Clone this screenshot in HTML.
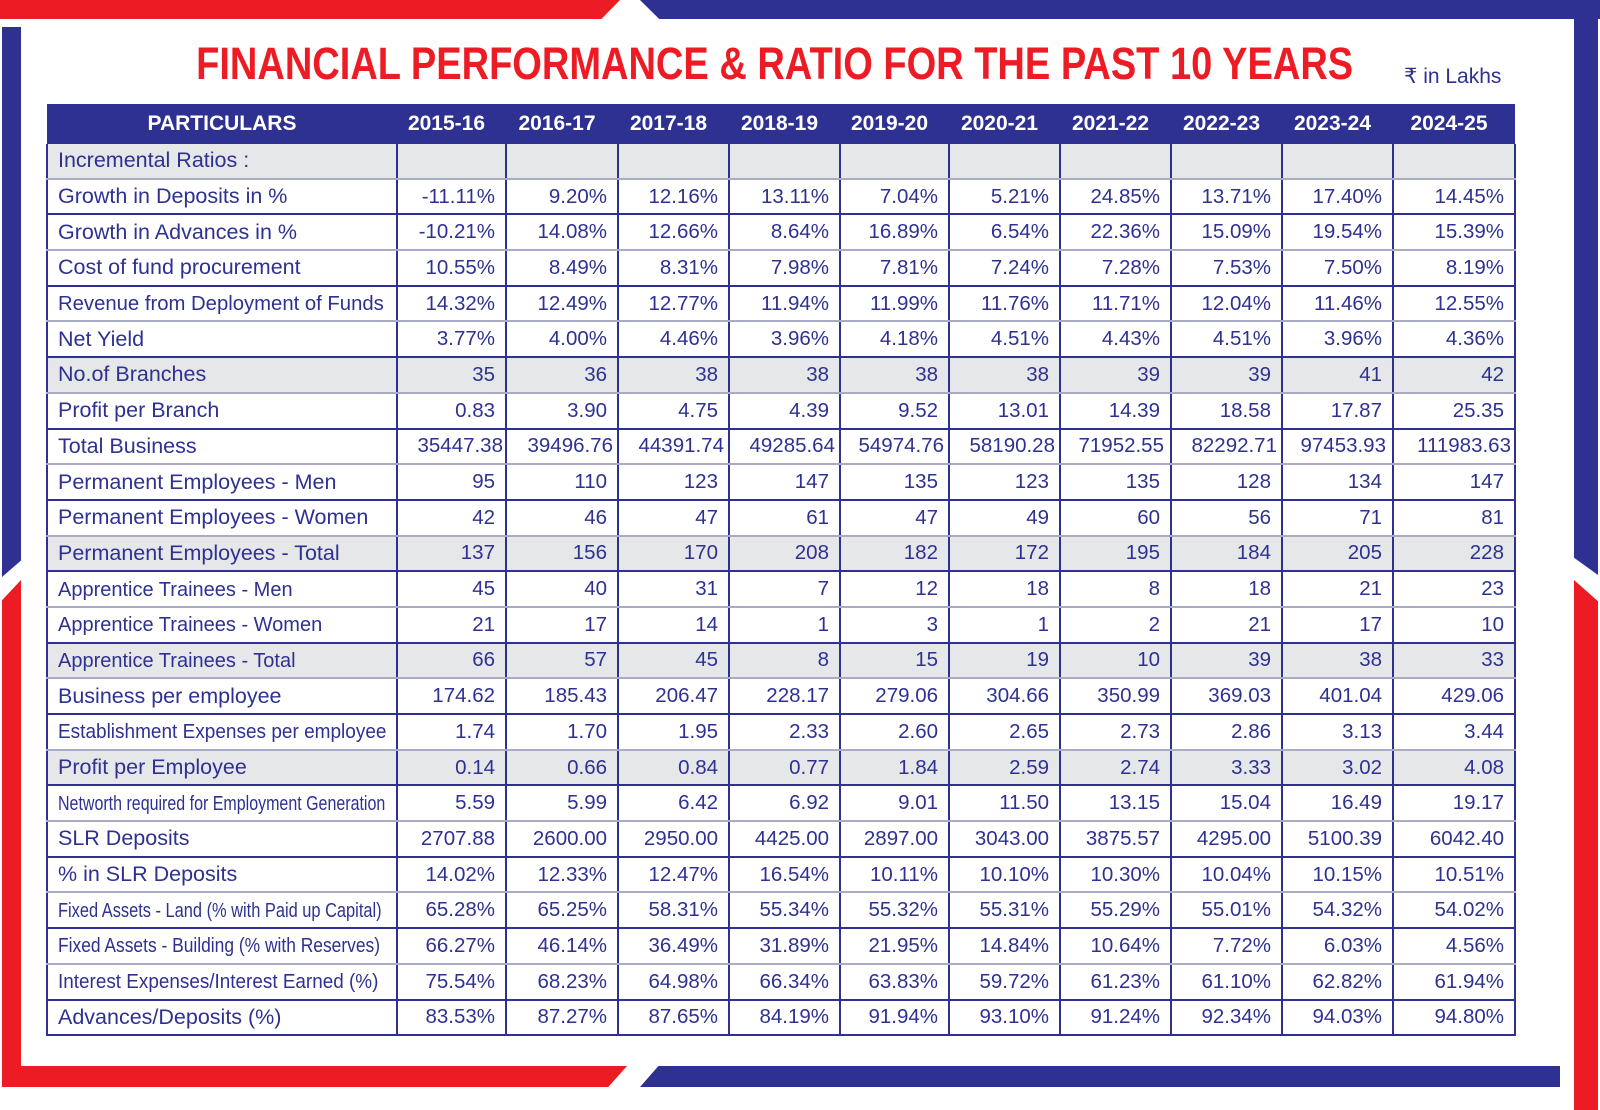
<!DOCTYPE html>
<html><head><meta charset="utf-8">
<style>
html,body{margin:0;padding:0;background:#fff;}
body{width:1600px;height:1110px;position:relative;overflow:hidden;font-family:"Liberation Sans",sans-serif;}
.b{position:absolute;}
.red{background:#ed1c24;}
.blue{background:#2e3192;}
h1{position:absolute;left:0;width:1550px;top:39px;margin:0;text-align:center;font-size:45px;font-weight:bold;color:#ed1c24;line-height:50px;}
h1 span{display:inline-block;transform:scaleX(0.845);transform-origin:center;white-space:nowrap;}
.unit{position:absolute;left:1404px;top:64px;font-size:21px;color:#2e3192;}
table{position:absolute;left:46px;top:104px;border-collapse:collapse;table-layout:fixed;width:1468px;color:#2e3192;font-size:20.5px;}
th{background:#2e3192;color:#fff;font-weight:bold;font-size:21px;height:40px;padding:0 10px 0 0;text-align:center;}
td{height:33.7px;padding:0 10px;text-align:right;border-left:2px solid #2e3192;border-right:2px solid #2e3192;white-space:nowrap;}
td:first-child{text-align:left;padding-left:10px;font-size:21.5px;}
tr.o td{border-bottom:2px solid #2e3192;}
tr.e td{border-bottom:2px solid #a9abc4;}
tr.g td{background:#e6e7e8;}
td.l{border-left:2px solid #b0b2c8;}
.s{display:inline-block;transform-origin:left;font-size:20px;}
</style></head><body>
<div class="b red" style="left:0;top:0;width:620px;height:19px;clip-path:polygon(0 0,100% 0,97% 100%,0 100%);"></div>
<div class="b blue" style="left:640px;top:0;width:960px;height:19px;clip-path:polygon(0 0,100% 0,100% 100%,2% 100%);"></div>
<div class="b blue" style="left:1574px;top:0;width:24px;height:575px;clip-path:polygon(0 0,100% 0,100% 100%,0 97%);"></div>
<div class="b red" style="left:1574px;top:580px;width:24px;height:530px;clip-path:polygon(0 0,100% 4%,100% 100%,0 100%);"></div>
<div class="b blue" style="left:2px;top:27px;width:19px;height:550px;clip-path:polygon(0 0,100% 0,100% 97%,0 100%);"></div>
<div class="b red" style="left:2px;top:580px;width:19px;height:507px;clip-path:polygon(0 4%,100% 0,100% 100%,0 100%);"></div>
<div class="b blue" style="left:640px;top:1066px;width:920px;height:21px;clip-path:polygon(2% 0,100% 0,100% 100%,0 100%);"></div>
<div class="b red" style="left:2px;top:1066px;width:625px;height:21px;clip-path:polygon(0 0,100% 0,97% 100%,0 100%);"></div>
<h1><span>FINANCIAL PERFORMANCE &amp; RATIO FOR THE PAST 10 YEARS</span></h1>
<div class="unit">₹ in Lakhs</div>
<table>
<colgroup><col style="width:350px"><col style="width:109px"><col style="width:112px"><col style="width:111px"><col style="width:111px"><col style="width:109px"><col style="width:111px"><col style="width:111px"><col style="width:111px"><col style="width:111px"><col style="width:122px"></colgroup>
<tr><th style="padding:0">PARTICULARS</th><th>2015-16</th><th>2016-17</th><th>2017-18</th><th>2018-19</th><th>2019-20</th><th>2020-21</th><th>2021-22</th><th>2022-23</th><th>2023-24</th><th>2024-25</th></tr>
<tr class="e g"><td>Incremental Ratios :</td><td></td><td></td><td></td><td></td><td></td><td></td><td></td><td></td><td></td><td class="l"></td></tr>
<tr class="o"><td>Growth in Deposits in %</td><td>-11.11%</td><td>9.20%</td><td>12.16%</td><td>13.11%</td><td>7.04%</td><td>5.21%</td><td>24.85%</td><td>13.71%</td><td>17.40%</td><td class="l">14.45%</td></tr>
<tr class="e"><td>Growth in Advances in %</td><td>-10.21%</td><td>14.08%</td><td>12.66%</td><td>8.64%</td><td>16.89%</td><td>6.54%</td><td>22.36%</td><td>15.09%</td><td>19.54%</td><td class="l">15.39%</td></tr>
<tr class="o"><td>Cost of fund procurement</td><td>10.55%</td><td>8.49%</td><td>8.31%</td><td>7.98%</td><td>7.81%</td><td>7.24%</td><td>7.28%</td><td>7.53%</td><td>7.50%</td><td class="l">8.19%</td></tr>
<tr class="e"><td><span class="s" style="font-size:20.3px">Revenue from Deployment of Funds</span></td><td>14.32%</td><td>12.49%</td><td>12.77%</td><td>11.94%</td><td>11.99%</td><td>11.76%</td><td>11.71%</td><td>12.04%</td><td>11.46%</td><td class="l">12.55%</td></tr>
<tr class="o"><td>Net Yield</td><td>3.77%</td><td>4.00%</td><td>4.46%</td><td>3.96%</td><td>4.18%</td><td>4.51%</td><td>4.43%</td><td>4.51%</td><td>3.96%</td><td class="l">4.36%</td></tr>
<tr class="e g"><td>No.of Branches</td><td>35</td><td>36</td><td>38</td><td>38</td><td>38</td><td>38</td><td>39</td><td>39</td><td>41</td><td class="l">42</td></tr>
<tr class="o"><td>Profit per Branch</td><td>0.83</td><td>3.90</td><td>4.75</td><td>4.39</td><td>9.52</td><td>13.01</td><td>14.39</td><td>18.58</td><td>17.87</td><td class="l">25.35</td></tr>
<tr class="e"><td>Total Business</td><td style="padding:0 2px 0 0">35447.38</td><td style="padding:0 4px 0 0">39496.76</td><td style="padding:0 4px 0 0">44391.74</td><td style="padding:0 4px 0 0">49285.64</td><td style="padding:0 4px 0 0">54974.76</td><td style="padding:0 4px 0 0">58190.28</td><td style="padding:0 6px 0 0">71952.55</td><td style="padding:0 4px 0 0">82292.71</td><td style="padding:0 6px 0 0">97453.93</td><td class="l" style="padding:0 3px 0 0">111983.63</td></tr>
<tr class="o"><td>Permanent Employees - Men</td><td>95</td><td>110</td><td>123</td><td>147</td><td>135</td><td>123</td><td>135</td><td>128</td><td>134</td><td class="l">147</td></tr>
<tr class="e"><td>Permanent Employees - Women</td><td>42</td><td>46</td><td>47</td><td>61</td><td>47</td><td>49</td><td>60</td><td>56</td><td>71</td><td class="l">81</td></tr>
<tr class="o g"><td>Permanent Employees - Total</td><td>137</td><td>156</td><td>170</td><td>208</td><td>182</td><td>172</td><td>195</td><td>184</td><td>205</td><td class="l">228</td></tr>
<tr class="e"><td><span class="s">Apprentice Trainees - Men</span></td><td>45</td><td>40</td><td>31</td><td>7</td><td>12</td><td>18</td><td>8</td><td>18</td><td>21</td><td class="l">23</td></tr>
<tr class="o"><td><span class="s">Apprentice Trainees - Women</span></td><td>21</td><td>17</td><td>14</td><td>1</td><td>3</td><td>1</td><td>2</td><td>21</td><td>17</td><td class="l">10</td></tr>
<tr class="e g"><td><span class="s">Apprentice Trainees - Total</span></td><td>66</td><td>57</td><td>45</td><td>8</td><td>15</td><td>19</td><td>10</td><td>39</td><td>38</td><td class="l">33</td></tr>
<tr class="o"><td>Business per employee</td><td>174.62</td><td>185.43</td><td>206.47</td><td>228.17</td><td>279.06</td><td>304.66</td><td>350.99</td><td>369.03</td><td>401.04</td><td class="l">429.06</td></tr>
<tr class="e"><td><span class="s" style="transform:scaleX(0.95)">Establishment Expenses per employee</span></td><td>1.74</td><td>1.70</td><td>1.95</td><td>2.33</td><td>2.60</td><td>2.65</td><td>2.73</td><td>2.86</td><td>3.13</td><td class="l">3.44</td></tr>
<tr class="o g"><td>Profit per Employee</td><td>0.14</td><td>0.66</td><td>0.84</td><td>0.77</td><td>1.84</td><td>2.59</td><td>2.74</td><td>3.33</td><td>3.02</td><td class="l">4.08</td></tr>
<tr class="e"><td><span class="s" style="transform:scaleX(0.8)">Networth required for Employment Generation</span></td><td>5.59</td><td>5.99</td><td>6.42</td><td>6.92</td><td>9.01</td><td>11.50</td><td>13.15</td><td>15.04</td><td>16.49</td><td class="l">19.17</td></tr>
<tr class="o"><td>SLR Deposits</td><td>2707.88</td><td>2600.00</td><td>2950.00</td><td>4425.00</td><td>2897.00</td><td>3043.00</td><td>3875.57</td><td>4295.00</td><td>5100.39</td><td class="l">6042.40</td></tr>
<tr class="e"><td>% in SLR Deposits</td><td>14.02%</td><td>12.33%</td><td>12.47%</td><td>16.54%</td><td>10.11%</td><td>10.10%</td><td>10.30%</td><td>10.04%</td><td>10.15%</td><td class="l">10.51%</td></tr>
<tr class="o"><td><span class="s" style="transform:scaleX(0.82)">Fixed Assets - Land (% with Paid up Capital)</span></td><td>65.28%</td><td>65.25%</td><td>58.31%</td><td>55.34%</td><td>55.32%</td><td>55.31%</td><td>55.29%</td><td>55.01%</td><td>54.32%</td><td class="l">54.02%</td></tr>
<tr class="e"><td><span class="s" style="transform:scaleX(0.87)">Fixed Assets - Building (% with Reserves)</span></td><td>66.27%</td><td>46.14%</td><td>36.49%</td><td>31.89%</td><td>21.95%</td><td>14.84%</td><td>10.64%</td><td>7.72%</td><td>6.03%</td><td class="l">4.56%</td></tr>
<tr class="o"><td><span class="s" style="transform:scaleX(0.945)">Interest Expenses/Interest Earned (%)</span></td><td>75.54%</td><td>68.23%</td><td>64.98%</td><td>66.34%</td><td>63.83%</td><td>59.72%</td><td>61.23%</td><td>61.10%</td><td>62.82%</td><td class="l">61.94%</td></tr>
<tr class="o"><td>Advances/Deposits (%)</td><td>83.53%</td><td>87.27%</td><td>87.65%</td><td>84.19%</td><td>91.94%</td><td>93.10%</td><td>91.24%</td><td>92.34%</td><td>94.03%</td><td class="l">94.80%</td></tr>
</table>
</body></html>
